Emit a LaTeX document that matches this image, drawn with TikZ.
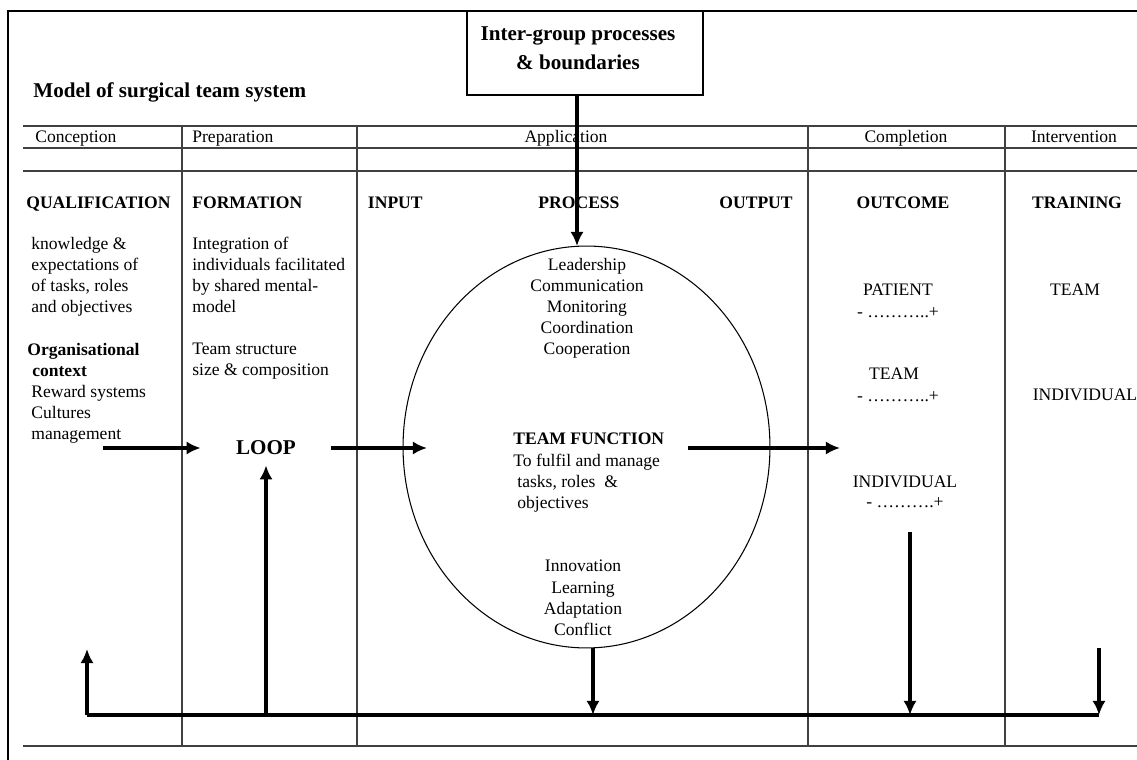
\documentclass[tikz,border=0pt]{standalone}
\usepackage{fontspec}
\setmainfont{Liberation Serif}
\usepackage{tikz}
\usetikzlibrary{arrows.meta,shapes.geometric}

\begin{document}
\begin{tikzpicture}[x=0.02cm,y=-0.02cm,
		flow/.style={-{Latex[length=8pt,width=7.5pt]},line width=2.2pt},
		rule/.style={line width=0.7pt,black!75},
		txt/.style={font=\fontsize{10}{12}\selectfont,inner sep=0pt},
		hdr/.style={font=\bfseries\fontsize{10}{12}\selectfont,inner sep=0pt},
		blk/.style={txt,align=left,anchor=north west,execute at begin node={\strut}}]
		\useasboundingbox (0,0) rectangle (1137,760);
		% frame and table
		\draw[line width=1.1pt] (8,760) -- (8,11) -- (1137,11);
		\draw[rule] (23,126) -- (1137,126);
		\draw[rule] (23,148) -- (1137,148);
		\draw[rule] (23,171) -- (1137,171);
		\draw[rule] (23,746) -- (1137,746);
		\draw[rule] (182,126) -- (182,746);
		\draw[rule] (357,126) -- (357,746);
		\draw[rule] (808,126) -- (808,746);
		\draw[rule] (1005,126) -- (1005,746);
		% title and top box
		\node[anchor=west,inner sep=0pt,font=\bfseries\fontsize{12}{14}\selectfont] (title) at (33,92) {Model of surgical team system};
		\node[draw,line width=0.8pt,minimum width=4.72cm,minimum height=1.68cm,inner sep=0pt] (inter) at (585,53) {};
		\node[align=center,inner sep=0pt,font=\bfseries\fontsize{12}{16.4}\selectfont] (intertxt) at (578,48) {Inter-group processes\\ \& boundaries};
		% phases
		\node[txt,anchor=base west] (conc) at (35,143) {Conception};
		\node[txt,anchor=base west] (prep) at (192,143) {Preparation};
		\node[txt,anchor=base] (appl) at (566,143) {Application};
		\node[txt,anchor=base] (compl) at (906,143) {Completion};
		\node[txt,anchor=base] (interv) at (1074,143) {Intervention};
		\node[hdr,anchor=base west] (qual) at (26,209) {QUALIFICATION};
		\node[hdr,anchor=base west] (form) at (192,209) {FORMATION};
		\node[hdr,anchor=base east] (input) at (423,209) {INPUT};
		\node[hdr,anchor=base] (proc) at (579,209) {PROCESS};
		\node[hdr,anchor=base east] (output) at (793,209) {OUTPUT};
		\node[hdr,anchor=base] (outcome) at (903,209) {OUTCOME};
		\node[hdr,anchor=base] (training) at (1077,209) {TRAINING};
		% conception and preparation
		\node[blk] (qualtxt) at (31,237) {knowledge \&\\expectations of\\of tasks, roles\\and objectives};
		\node[blk] (orgtxt) at (27,343) {\textbf{Organisational}\\\hspace{2.8pt}\textbf{context}\\\hspace{2.3pt}Reward systems\\\hspace{2.3pt}Cultures\\\hspace{2.3pt}management};
		\node[blk] (formtxt) at (192,237) {Integration of\\individuals facilitated\\by shared mental-\\model};
		\node[blk] (structtxt) at (192,343) {Team structure\\size \& composition};
		\node[inner sep=0pt,minimum width=2.6cm,minimum height=0.68cm,font=\bfseries\fontsize{12}{14}\selectfont] (loop) at (266,448) {LOOP};
		% team function
		\node[draw,ellipse,line width=0.6pt,minimum width=7.34cm,minimum height=8.04cm,inner sep=0pt] (func) at (586.5,447) {};
		\node[blk,align=center,anchor=north] (proctxt) at (587,258) {Leadership\\Communication\\Monitoring\\Coordination\\Cooperation};
		\node[blk] (functxt) at (513,433) {\textbf{TEAM FUNCTION}\\To fulfil and manage\\\hspace{2.3pt}tasks, roles\ \ \&\\\hspace{2.3pt}objectives};
		\node[blk,align=center,anchor=north] (learntxt) at (583,560) {Innovation\\Learning\\Adaptation\\Conflict};
		% completion and intervention
		\node[txt] (patient) at (898,290) {PATIENT};
		\node[txt] (patscale) at (898,313) {- ………..+};
		\node[txt] (team) at (894,374) {TEAM};
		\node[txt] (teamscale) at (898,397) {- ………..+};
		\node[txt] (indiv) at (905,482) {INDIVIDUAL};
		\node[txt] (indscale) at (905,503) {- ……….+};
		\node[txt] (trteam) at (1075,290) {TEAM};
		\node[txt] (trindiv) at (1085,395) {INDIVIDUAL};
		% arrows
		\coordinate (pin) at (577,246);
		\draw[flow] (inter.south -| pin) -- (pin);
		\coordinate (ctx) at (103,448);
		\coordinate (fin) at (427,448);
		\coordinate (fout) at (688,448);
		\coordinate (outc) at (840,448);
		\draw[flow] (ctx) -- (loop.west);
		\draw[flow] (loop.east) -- (fin);
		\draw[flow] (fout) -- (outc);
		% feedback
		\coordinate (fbl) at (87,715);
		\coordinate (fbr) at (1099,715);
		\coordinate (fbf) at (593,715);
		\coordinate (fbo) at (910,715);
		\coordinate (qualin) at (87,649);
		\coordinate (indout) at (910,532);
		\coordinate (trout) at (1099,648);
		\draw[line width=2.2pt] (fbl) -- (fbr);
		\draw[flow] (fbl) -- (qualin);
		\draw[flow] (fbl -| loop.south) -- (loop.south);
		\draw[flow] (fbf |- func.south) -- (fbf);
		\draw[flow] (indout) -- (fbo);
		\draw[flow] (trout) -- (fbr);
	\end{tikzpicture}
\end{document}
